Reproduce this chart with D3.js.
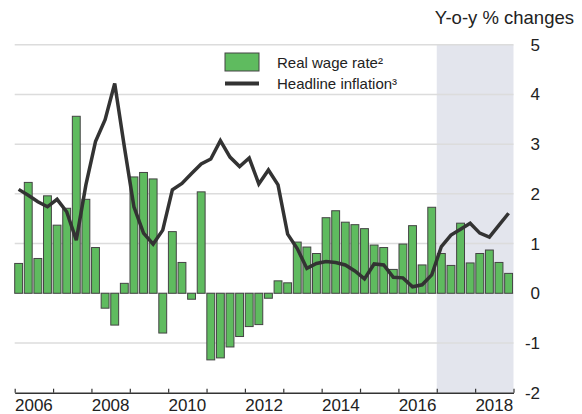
<!DOCTYPE html>
<html>
<head>
<meta charset="utf-8">
<script src="https://cdn.jsdelivr.net/npm/d3@7"></script>
<style>
  body { margin: 0; background: #fff; }
  svg text { font-family: "Liberation Sans", Arial, sans-serif; fill: #222; }
</style>
</head>
<body>
<div id="chart"></div>
<script>
var width = 582,
    height = 414;

// quarters 2006Q1 .. 2018Q4
var years = [2006, 2007, 2008, 2009, 2010, 2011, 2012, 2013, 2014, 2015, 2016, 2017, 2018];
var quarters = [];
years.forEach(function (yr) {
    ["Q1", "Q2", "Q3", "Q4"].forEach(function (q) { quarters.push(yr + q); });
});

// real wage rate, y-o-y % (bars)
var wage = [0.60, 2.23, 0.70, 1.96, 1.37, 1.71, 3.56, 1.89,
            0.92, -0.30, -0.64, 0.20, 2.34, 2.43, 2.30, -0.80,
            1.24, 0.62, -0.12, 2.04, -1.34, -1.30, -1.08, -0.87,
            -0.67, -0.63, -0.10, 0.25, 0.21, 1.03, 0.93, 0.80,
            1.52, 1.66, 1.43, 1.38, 1.30, 0.97, 0.92, 0.48,
            0.99, 1.36, 0.57, 1.73, 0.80, 0.56, 1.41, 0.61,
            0.80, 0.87, 0.62, 0.40];

// headline inflation, y-o-y % (line)
var inflation = [2.09, 1.97, 1.84, 1.74, 1.89, 1.64, 1.07, 2.18,
                 3.05, 3.49, 4.22, 2.95, 1.74, 1.21, 0.99, 1.27,
                 2.08, 2.21, 2.41, 2.60, 2.70, 3.07, 2.74, 2.55,
                 2.72, 2.20, 2.48, 2.18, 1.19, 0.90, 0.50, 0.60,
                 0.64, 0.62, 0.57, 0.45, 0.29, 0.59, 0.57, 0.32,
                 0.31, 0.13, 0.17, 0.37, 0.94, 1.17, 1.29, 1.41,
                 1.21, 1.13, 1.37, 1.61];

var yTicks = [-2, -1, 0, 1, 2, 3, 4, 5];
var xLabels = [2006, 2008, 2010, 2012, 2014, 2016, 2018];
var forecastStart = 2017;

var plotL = 14.7, plotR = 513.5, plotT = 44.7, plotB = 392.7;

var svg = d3.select("#chart").append("svg")
    .attr("width", width)
    .attr("height", height);

var xTime = d3.scaleLinear().domain([2006, 2019]).range([plotL, plotR]);
var x = d3.scaleBand().domain(quarters).range([plotL, plotR])
    .paddingInner(0.18).paddingOuter(0.05).align(0);
var y = d3.scaleLinear().domain([-2, 5]).range([plotB, plotT]);

// shaded forecast area
svg.append("rect")
    .attr("x", xTime(forecastStart))
    .attr("y", y(5))
    .attr("width", xTime(2019) - xTime(forecastStart))
    .attr("height", y(-2) - y(5))
    .attr("fill", "#e3e5ed");

// grid
svg.selectAll(".grid")
    .data(yTicks.filter(function (d) { return d > -2; }))
    .enter().append("line")
    .attr("class", "grid")
    .attr("x1", plotL).attr("x2", plotR)
    .attr("y1", function (d) { return y(d); })
    .attr("y2", function (d) { return y(d); })
    .attr("stroke", "#dcdcdc")
    .attr("stroke-width", 1.5);

// bars
svg.selectAll(".bar")
    .data(wage)
    .enter().append("rect")
    .attr("class", "bar")
    .attr("x", function (d, i) { return x(quarters[i]); })
    .attr("y", function (d) { return y(Math.max(0, d)); })
    .attr("width", x.bandwidth())
    .attr("height", function (d) { return Math.abs(y(d) - y(0)); })
    .attr("fill", "#5fbb5f")
    .attr("stroke", "#444")
    .attr("stroke-width", 1);

// line
var line = d3.line()
    .x(function (d, i) { return x(quarters[i]) + x.bandwidth() / 2; })
    .y(function (d) { return y(d); });

svg.append("path")
    .datum(inflation)
    .attr("d", line)
    .attr("fill", "none")
    .attr("stroke", "#333")
    .attr("stroke-width", 3.5)
    .attr("stroke-linejoin", "miter");

// x axis: year ticks pointing up, labels centred in the year
var xAxis = svg.append("g")
    .attr("transform", "translate(0," + plotB + ")")
    .call(d3.axisBottom(xTime)
        .tickValues(d3.range(2006, 2020))
        .tickSize(-4)
        .tickSizeOuter(0)
        .tickFormat(""));
xAxis.select(".domain").attr("stroke", "#333").attr("stroke-width", 1.5);
xAxis.selectAll(".tick line").attr("stroke", "#333").attr("stroke-width", 1.2);

svg.selectAll(".xlab")
    .data(xLabels)
    .enter().append("text")
    .attr("class", "xlab")
    .attr("x", function (d) { return xTime(d + 0.5); })
    .attr("y", 411)
    .attr("font-size", 17)
    .style("text-anchor", "middle")
    .text(function (d) { return d; });

// y axis labels on the right
svg.selectAll(".ylab")
    .data(yTicks)
    .enter().append("text")
    .attr("class", "ylab")
    .attr("x", 540)
    .attr("y", function (d) { return y(d); })
    .attr("dy", "0.35em")
    .attr("font-size", 17)
    .style("text-anchor", "end")
    .text(function (d) { return String(d); });

svg.append("text")
    .attr("x", 574)
    .attr("y", 24)
    .attr("font-size", 18.5)
    .style("text-anchor", "end")
    .text("Y-o-y % changes");

// legend
svg.append("rect")
    .attr("x", 225).attr("y", 53)
    .attr("width", 34).attr("height", 18)
    .attr("fill", "#5fbb5f")
    .attr("stroke", "#444")
    .attr("stroke-width", 1);
svg.append("line")
    .attr("x1", 225).attr("x2", 259)
    .attr("y1", 83.5).attr("y2", 83.5)
    .attr("stroke", "#333")
    .attr("stroke-width", 4);
svg.append("text")
    .attr("x", 277).attr("y", 68)
    .attr("font-size", 15)
    .text("Real wage rate²");
svg.append("text")
    .attr("x", 277).attr("y", 89)
    .attr("font-size", 15)
    .text("Headline inflation³");
</script>
</body>
</html>
